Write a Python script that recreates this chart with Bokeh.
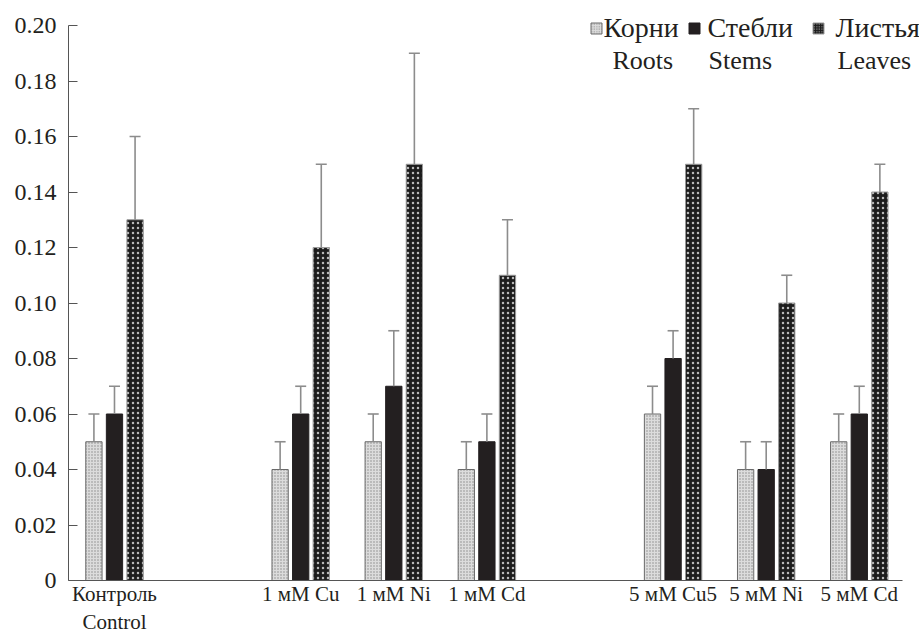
from bokeh.plotting import figure
from bokeh.models import FixedTicker, Label, Range1d, PrintfTickFormatter
from bokeh.embed import file_html
from bokeh.resources import INLINE

# ---- data ----
groups = ["Контроль\nControl", "1 мМ Cu", "1 мМ Ni", "1 мМ Cd",
          "5 мМ Cu5", "5 мМ Ni", "5 мМ Cd"]
blocks = [1, 3, 3]          # groups per block (an empty slot separates blocks)
roots = [0.05, 0.04, 0.05, 0.04, 0.06, 0.04, 0.05]
roots_err = [0.01, 0.01, 0.01, 0.01, 0.01, 0.01, 0.01]
stems = [0.06, 0.06, 0.07, 0.05, 0.08, 0.04, 0.06]
stems_err = [0.01, 0.01, 0.02, 0.01, 0.01, 0.01, 0.01]
leaves = [0.13, 0.12, 0.15, 0.11, 0.15, 0.10, 0.14]
leaves_err = [0.03, 0.03, 0.04, 0.02, 0.02, 0.01, 0.01]
y_ticks = [0, 0.02, 0.04, 0.06, 0.08, 0.10, 0.12, 0.14, 0.16, 0.18, 0.20]
legend_ru = ["Корни", "Стебли", "Листья"]
legend_en = ["Roots", "Stems", "Leaves"]

# slot positions
xs = []
s = 0
for n in blocks:
    for _ in range(n):
        xs.append(s)
        s += 1
    s += 1

FONT = "Liberation Serif"
TXT = "#231f20"
AX = "#555555"
SLOT_PX = 93.1           # pixels per slot
Y_PX = 555 / 0.20        # pixels per unit
LEFT = 68                # frame left (px)
X0 = -0.494
X1 = X0 + (919 - LEFT) / SLOT_PX
X_AXIS_END = X0 + (902 - LEFT) / SLOT_PX
Y_TOP = 0.20 + 25 / Y_PX

p = figure(width=919, height=637, output_backend="svg", toolbar_location=None,
           x_range=Range1d(X0, X1), y_range=Range1d(0, Y_TOP),
           min_border_left=LEFT, min_border_right=0, min_border_top=0,
           min_border_bottom=57)
p.xgrid.visible = False
p.ygrid.visible = False
p.outline_line_color = None
p.background_fill_color = "white"

off = 0.221
w = 0.175
styles = [
    dict(fill_color="#dcdcdc", line_color="#6a6a6a", hatch_pattern="dot",
         hatch_color="#8a8a8a", hatch_scale=3, hatch_weight=1),
    dict(fill_color="#231f20", line_color="#231f20"),
    dict(fill_color="#1c1c1c", line_color="#9a9a9a", hatch_pattern="dot",
         hatch_color="#b8b8b8", hatch_scale=5, hatch_weight=1.6),
]
series = [(roots, roots_err), (stems, stems_err), (leaves, leaves_err)]
for k, (vals, errs) in enumerate(series):
    bx = [x + (k - 1) * off for x in xs]
    p.vbar(x=bx, top=vals, width=w, bottom=0, line_width=1, **styles[k])
    tops = [v + e for v, e in zip(vals, errs)]
    p.segment(x0=bx, y0=vals, x1=bx, y1=tops, line_color="#8c8c8c", line_width=1.6)
    p.scatter(x=bx, y=tops, marker="dash", size=11, line_color="#8c8c8c", line_width=1.6)

# axes
p.yaxis.bounds = (0, 0.20)
p.yaxis.ticker = FixedTicker(ticks=y_ticks)
p.yaxis.formatter = PrintfTickFormatter(format="%.2f")
p.yaxis.major_label_overrides = {0: "0"}
p.yaxis.major_tick_in = 9
p.yaxis.major_tick_out = 0
p.yaxis.minor_tick_line_color = None
p.yaxis.major_label_standoff = 12
p.yaxis.major_label_text_font = FONT
p.yaxis.major_label_text_font_size = "24px"
p.yaxis.major_label_text_color = TXT
p.yaxis.axis_line_color = AX
p.yaxis.major_tick_line_color = AX

p.xaxis.bounds = (X0, X_AXIS_END)
p.xaxis.ticker = FixedTicker(ticks=xs)
p.xaxis.major_label_overrides = {x: g for x, g in zip(xs, groups)}
p.xaxis.major_tick_in = 0
p.xaxis.major_tick_out = 0
p.xaxis.minor_tick_line_color = None
p.xaxis.major_label_standoff = 1
p.xaxis.major_label_text_font = FONT
p.xaxis.major_label_text_font_size = "21px"
p.xaxis.major_label_text_color = TXT
p.xaxis.axis_line_color = AX

def px2x(px):
    return (px - LEFT) / SLOT_PX + X0

def py2y(py):
    return (580 - py) / Y_PX

# legend (manual)
icon_px = [596, 694, 818]
text_px = [603, 707, 835]
en_px = [612, 708, 837]
for k in range(3):
    st = styles[k]
    p.scatter(x=[px2x(icon_px[k])], y=[py2y(28)], marker="square", size=11,
              fill_color=st["fill_color"], line_color=st["line_color"],
              hatch_pattern=st.get("hatch_pattern"), hatch_color=st.get("hatch_color", "black"),
              hatch_scale=2.5 if k != 1 else 12, hatch_weight=1)
    p.add_layout(Label(x=px2x(text_px[k]), y=py2y(27), text=legend_ru[k],
                       text_font=FONT, text_font_size="28px", text_color=TXT,
                       text_baseline="alphabetic"))
    p.add_layout(Label(x=px2x(en_px[k]), y=py2y(60), text=legend_en[k],
                       text_font=FONT, text_font_size="26px", text_color=TXT,
                       text_baseline="alphabetic"))

open("out.html", "w").write(file_html(p, INLINE))
